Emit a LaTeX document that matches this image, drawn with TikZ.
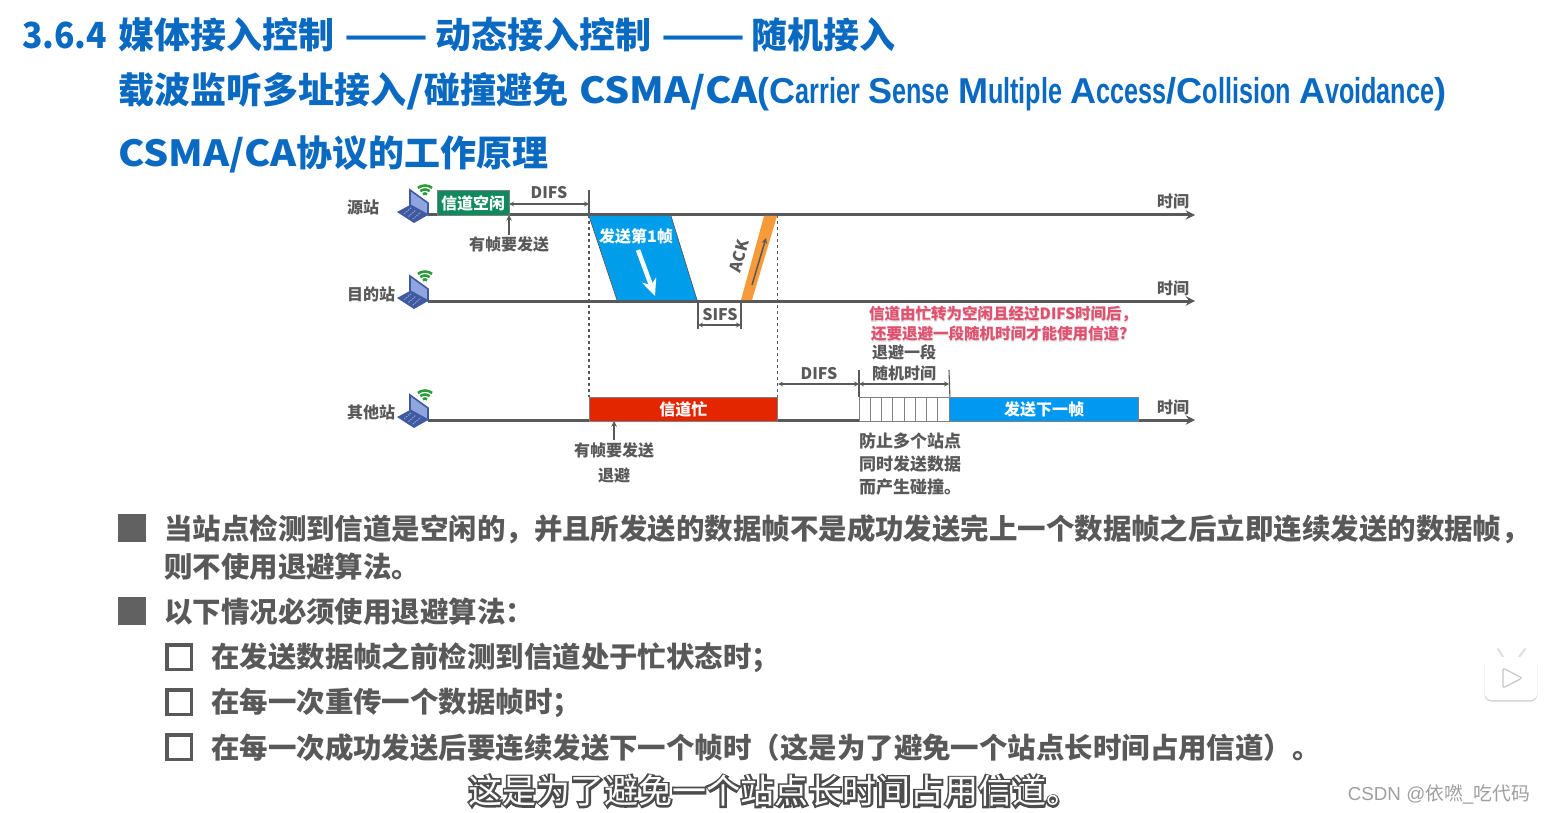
\documentclass[tikz,border=0pt]{standalone}
\usepackage{fontspec}
\setmainfont{Noto Sans CJK SC}
\newfontfamily\narrowfont{Liberation Sans}[FakeStretch=0.70]
\newfontfamily\capfont{Liberation Sans}
\newfontfamily\haloheavy{Noto Sans CJK SC}[FakeBold=5]
\newfontfamily\subheavy{Noto Sans CJK SC}[FakeBold=7]
\usetikzlibrary{shapes,arrows,arrows.meta,positioning,fit,calc,backgrounds,shadows}
\definecolor{headblue}{HTML}{0A6AC2}
\definecolor{inkgray}{HTML}{595959}
\definecolor{framblue}{HTML}{009EEA}
\definecolor{nextblue}{HTML}{0098F0}
\definecolor{busyred}{HTML}{E32600}
\definecolor{ackorange}{HTML}{F79A3A}
\definecolor{idlegreen}{HTML}{0E8A5E}
\definecolor{notepink}{HTML}{E2506F}
\definecolor{navy}{HTML}{3F5A9E}
\definecolor{screenblue}{HTML}{8FA5E0}
\definecolor{wifigreen}{HTML}{2F9A3C}
\newcommand{\capfirst}[2]{{\capfont\bfseries #1}{\narrowfont #2}}
\newcommand{\longdash}{\scalebox{1.36}[1]{——}}
\newcommand{\csma}{\scalebox{1.1}[1]{CSMA/CA}}

\begin{document}
\begin{tikzpicture}[
    x=1pt, y=-1pt,
    txt/.style={font=\bfseries\fontsize{#1}{#1}\selectfont, inner sep=0pt, text height=#1*0.88pt, text depth=#1*0.12pt},
    heading/.style={txt=36, text=headblue, anchor=west},
    body/.style={txt=28.45, text=inkgray, anchor=west},
    small/.style={txt=16, text=inkgray},
    onfill/.style={txt=16, text=white},
    why/.style={txt=17, text=inkgray, anchor=west},
    note/.style={txt=15.5, text=notepink, anchor=west},
    notebg/.style={note, font=\haloheavy\bfseries\fontsize{15.5}{15.5}\selectfont, text=gray!25},
    fillbox/.style={draw=gray, line width=0.9pt, minimum height=24pt, inner sep=0pt},
    axisline/.style={draw=inkgray, line width=3pt},
    timeline/.style={axisline, -stealth},
    edge/.style={-stealth, draw=inkgray, line width=1.5pt},
    dim/.style={stealth-stealth, draw=inkgray, line width=1.2pt},
    tick/.style={draw=inkgray, line width=1.1pt},
    guide/.style={draw=inkgray, line width=1.1pt, dashed},
    bigmark/.style={fill=inkgray!95, draw=none, minimum size=28pt, inner sep=0pt},
    openmark/.style={draw=inkgray, line width=3.5pt, minimum size=24.5pt, inner sep=0pt},
    laptop/.pic={
        \fill[navy] (-31,-3) -- (-18,-10) -- (0,0) -- (-14,8) -- cycle;
        \foreach \k in {1,2,3} {
            \draw[screenblue, line width=0.9pt, dash pattern=on 1.5pt off 1pt] ($(-31,-3)!\k/4!(-14,8)+(3,-1)$) -- ($(-18,-10)!\k/4!(0,0)+(-3,0)$);
        }
        \draw[fill=screenblue, draw=navy, line width=1.6pt] (-18,-25) -- (0,-12) -- (0,0) -- (-18,-10) -- cycle;
        \foreach \r in {3.5,7.5,11.5} {
            \draw[wifigreen, line width=2.6pt] (-3,-18) ++(232:\r) arc (232:308:\r);
        }
    },
]

\fill[white] (0,0) rectangle (1545,813);
\useasboundingbox (0,0) rectangle (1545,813);

% Headings
\node[heading] (head1) at (22,35) {\scalebox{0.934}[1]{3.6.4}\hspace{11pt}媒体接入控制\hspace{10pt}\longdash\hspace{7pt}动态接入控制\hspace{10pt}\longdash\hspace{6pt}随机接入};
\node[heading] (head2) at (118,90) {载波监听多址接入\scalebox{1.3}[1]{/}碰撞避免\hspace{11pt}\csma{\capfont\bfseries (}\capfirst{C}{arrier} \capfirst{S}{ense} \capfirst{M}{ultiple} \capfirst{A}{ccess}{\capfont\bfseries /}\capfirst{C}{ollision} \capfirst{A}{voidance}{\capfont\bfseries )}};
\node[heading] (head3) at (118,153) {\csma 协议的工作原理};

% Time axes
\coordinate (srcL) at (428,215);
\coordinate (srcR) at (1195,215);
\coordinate (dstL) at (428,301);
\coordinate (dstR) at (1195,301);
\coordinate (othL) at (428,420);
\coordinate (othR) at (1195,420);
\draw[timeline] (srcL) -- (srcR);
\draw[timeline] (dstL) -- (dstR);
\draw[timeline] (othL) -- (othR);

\pic (srcpc) at (srcL) {laptop};
\pic (dstpc) at (dstL) {laptop};
\pic (othpc) at (othL) {laptop};

\node[small] (srcname) at (363,207) {源站};
\node[small] (dstname) at (371,294) {目的站};
\node[small] (othname) at (371,412) {其他站};
\node[small] (time1) at (1173,201) {时间};
\node[small] (time2) at (1173,288) {时间};
\node[small] (time3) at (1173,407) {时间};

% Source station
\node[fillbox, fill=idlegreen, onfill, minimum width=72pt, minimum height=25pt] (idle) at (473,203) {信道空闲};
\coordinate (wantT) at (509,215);
\coordinate (wantB) at (509,235);
\node[small] (want) at (509,244) {有帧要发送};
\draw[edge] (wantB) -- (wantT);

\coordinate (tA) at (589,190);
\coordinate (tB) at (589,215);
\coordinate (tC) at (589,397);
\coordinate (tD) at (777.5,215);
\coordinate (tE) at (777.5,397);
\draw[tick] (tA) -- (tB);
\draw[guide] (tB) -- (tC);
\draw[guide] (tD) -- (tE);
\node[small] (difsA) at (549,192) {DIFS};
\coordinate (difsAL) at (509,204);
\coordinate (difsAR) at (589,204);
\draw[dim] (difsAL) -- (difsAR);

% Frame and ACK
\fill[framblue] (589,216) -- (671,216) -- (697,300) -- (617,300) -- cycle;
\draw[inkgray, line width=0.7pt] (671,216) -- (697,300);
\draw[inkgray, line width=0.7pt] (589,216) -- (617,300);
\node[onfill] (frame) at (636,236) {发送第1帧};
\coordinate (frameA) at (638,250);
\coordinate (frameB) at (655,296);
\draw[-{Stealth[length=17pt,width=15pt]}, white, line width=4.5pt] (frameA) -- (frameB);

\fill[ackorange] (764,216) -- (777,216) -- (752,300) -- (741,300) -- cycle;
\coordinate (ackA) at (752,285);
\coordinate (ackB) at (766,238);
\draw[edge] (ackA) -- (ackB);
\node[small, rotate=75] (ack) at (739,256) {ACK};

% SIFS
\coordinate (sifsLT) at (698,301);
\coordinate (sifsLB) at (698,329);
\coordinate (sifsRT) at (741,301);
\coordinate (sifsRB) at (741,329);
\draw[tick] (sifsLT) -- (sifsLB);
\draw[tick] (sifsRT) -- (sifsRB);
\coordinate (sifsL) at (698,325);
\coordinate (sifsR) at (741,325);
\draw[dim] (sifsL) -- (sifsR);
\node[small] (sifs) at (720,314) {SIFS};

% Question
\node[notebg] (ques1bg) at (869,314) {信道由忙转为空闲且经过DIFS时间后，};
\node[notebg] (ques2bg) at (871,334) {还要退避一段随机时间才能使用信道?};
\node[note] (ques1) at (869,314) {信道由忙转为空闲且经过DIFS时间后，};
\node[note] (ques2) at (871,334) {还要退避一段随机时间才能使用信道?};

% Other station
\node[fillbox, fill=busyred, onfill, minimum width=188.5pt] (busy) at (683.25,409) {信道忙};
\coordinate (busyW) at (614,440);
\coordinate (busyS) at (614,421);
\draw[edge] (busyW) -- (busyS);
\node[small] (want2) at (614,450) {有帧要发送};
\node[small] (defer) at (614,475) {退避};

\coordinate (difsBL) at (778,384);
\coordinate (difsBR) at (859,384);
\draw[dim] (difsBL) -- (difsBR);
\node[small] (difsB) at (819,373) {DIFS};

% Backoff slots
\node[fillbox, fill=white, minimum width=90pt, anchor=north west] (slots) at (859,397) {};
\foreach \i in {1,...,7} {
    \draw[gray, line width=0.9pt] ($(slots.north west)+(\i*11.25,0)$) -- ($(slots.south west)+(\i*11.25,0)$);
}
\coordinate (backL) at (859,370);
\coordinate (backR) at (949,370);
\draw[tick] (backL) -- (slots.north west);
\draw[tick] (backR) -- (slots.north east);
\coordinate (backAL) at (859,384);
\coordinate (backAR) at (949,384);
\draw[dim] (backAL) -- (backAR);
\node[small] (back1) at (904,352) {退避一段};
\node[small] (back2) at (904,373) {随机时间};

\node[fillbox, fill=nextblue, onfill, minimum width=189pt] (next) at (1044,409) {发送下一帧};

\node[why] (why1) at (859,441) {防止多个站点};
\node[why] (why2) at (859,464) {同时发送数据};
\node[why] (why3) at (859,487) {而产生碰撞。};

% Rules
\node[bigmark] (mark1) at (132,528) {};
\node[body] (rule1) at (164,529) {当站点检测到信道是空闲的，并且所发送的数据帧不是成功发送完上一个数据帧之后立即连续发送的数据帧，};
\node[body] (rule1b) at (164,567) {则不使用退避算法。};
\node[bigmark] (mark2) at (132,610.5) {};
\node[body] (rule2) at (164,612) {以下情况必须使用退避算法：};
\node[openmark] (box1) at (179,657) {};
\node[body] (case1) at (211,657) {在发送数据帧之前检测到信道处于忙状态时；};
\node[openmark] (box2) at (179,702) {};
\node[body] (case2) at (211,702) {在每一次重传一个数据帧时；};
\node[openmark] (box3) at (179,747) {};
\node[body] (case3) at (211,748) {在每一次成功发送后要连续发送下一个帧时（这是为了避免一个站点长时间占用信道）。};

% Video overlay
\node[inner sep=0pt, text=black!70, font=\subheavy\bfseries\fontsize{34}{34}\selectfont, anchor=west] (subbg) at (468,791) {这是为了避免一个站点长时间占用信道。};
\node[inner sep=0pt, text=white, font=\fontsize{34}{34}\selectfont, anchor=west] (sub) at (468,791) {这是为了避免一个站点长时间占用信道。};
\node[inner sep=0pt, text=gray!75, font=\capfont\fontsize{18.8}{18.8}\selectfont, anchor=east] (mark) at (1530,794) {CSDN @{\normalfont 依嘫}\_{\normalfont 吃代码}};

\coordinate (antL) at (1498,649);
\coordinate (antLb) at (1503,657);
\coordinate (antR) at (1525,649);
\coordinate (antRb) at (1519,657);
\draw[gray!25, line width=2pt, line cap=round] (antL) -- (antLb);
\draw[gray!25, line width=2pt, line cap=round] (antR) -- (antRb);
\node[fill=white, rounded corners=7pt, minimum width=53pt, minimum height=43pt, inner sep=0pt, drop shadow={shadow xshift=0pt, shadow yshift=-1.5pt, opacity=0.35}] (play) at (1511,678.5) {};
\draw[gray!45, fill=white, line width=1.2pt, rounded corners=2pt] (1503,668) -- (1522,678) -- (1503,688) -- cycle;

\end{tikzpicture}
\end{document}
